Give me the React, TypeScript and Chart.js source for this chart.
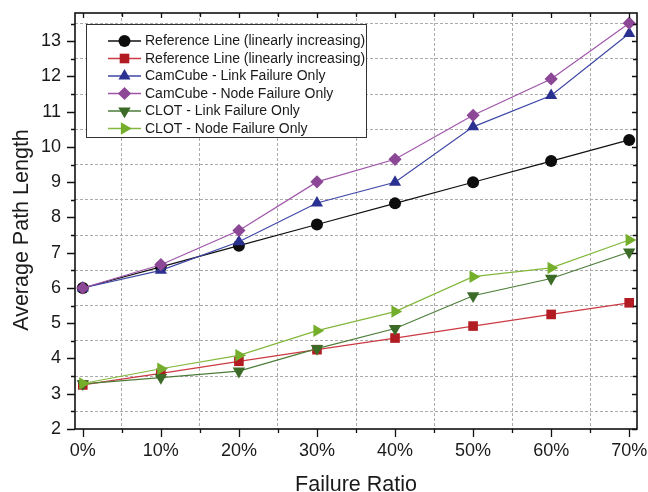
import React, { useEffect, useRef } from 'react';
import { Chart, registerables } from 'chart.js';
import { drawPoint } from 'chart.js/helpers';

Chart.register(...registerables);

// ---------- data ----------
const failureRatio = [0, 10, 20, 30, 40, 50, 60, 70];

const seriesLabels = [
  'Reference Line (linearly increasing)',
  'Reference Line (linearly increasing)',
  'CamCube - Link Failure Only',
  'CamCube - Node Failure Only',
  'CLOT - Link Failure Only',
  'CLOT - Node Failure Only',
];

const referenceHigh = [6.0, 6.6, 7.2, 7.8, 8.4, 9.0, 9.6, 10.2];
const referenceLow = [3.25, 3.58, 3.92, 4.25, 4.58, 4.92, 5.25, 5.58];
const camCubeLink = [6.0, 6.5, 7.31, 8.41, 9.0, 10.57, 11.46, 13.22];
const camCubeNode = [6.0, 6.66, 7.63, 9.01, 9.65, 10.9, 11.93, 13.51];
const clotLink = [3.28, 3.46, 3.64, 4.28, 4.85, 5.78, 6.27, 7.02];
const clotNode = [3.29, 3.71, 4.09, 4.79, 5.33, 6.32, 6.57, 7.36];

const xTickValues = [0, 5, 10, 15, 20, 25, 30, 35, 40, 45, 50, 55, 60, 65, 70];
const xLabelValues = [0, 10, 20, 30, 40, 50, 60, 70];
const yTickValues = [2, 2.5, 3, 3.5, 4, 4.5, 5, 5.5, 6, 6.5, 7, 7.5, 8, 8.5, 9, 9.5, 10, 10.5, 11, 11.5, 12, 12.5, 13, 13.5];
const yLabelValues = [2, 3, 4, 5, 6, 7, 8, 9, 10, 11, 12, 13];

const xTitle = 'Failure Ratio';
const yTitle = 'Average Path Length';

// ---------- styles ----------
const markerColors = ['#0d0d0d', '#b31b22', '#2b3190', '#8c4796', '#3c6b28', '#74ae2b'];
const lineColors = ['#111111', '#cc3a44', '#3e47a6', '#a055ab', '#4c7d38', '#82b83c'];
const pointStyles = ['circle', 'rect', 'triangle', 'rectRot', 'triangle', 'triangle'];
const pointRotations = [0, 0, 0, 0, 180, 90];
const pointRadii = [6, 6.8, 7, 6.6, 7.2, 7.2];

const FONT = "'Liberation Sans', Arial, Helvetica, sans-serif";

const seriesValues = [referenceHigh, referenceLow, camCubeLink, camCubeNode, clotLink, clotNode];

const isMajorX = (v: number) => xLabelValues.includes(v);
const isMajorY = (v: number) => yLabelValues.includes(v);

const framePlugin = {
  id: 'frameTicks',
  afterDraw(chart: any) {
    const { ctx, chartArea: a, scales } = chart;
    const xs = scales.x;
    const ys = scales.y;
    ctx.save();
    ctx.strokeStyle = '#111';
    ctx.lineWidth = 1.3;
    ctx.beginPath();
    xTickValues.forEach((v) => {
      const px = Math.round(xs.getPixelForValue(v)) + 0.5;
      const major = isMajorX(v);
      ctx.moveTo(px, a.bottom);
      ctx.lineTo(px, a.bottom + (major ? 8 : 4));
      ctx.moveTo(px, a.top);
      ctx.lineTo(px, a.top + (major ? 5 : 4));
    });
    yTickValues.forEach((v) => {
      const py = Math.round(ys.getPixelForValue(v)) + 0.5;
      const major = isMajorY(v);
      ctx.moveTo(a.left, py);
      ctx.lineTo(a.left - (major ? 8 : 4), py);
      ctx.moveTo(a.right, py);
      ctx.lineTo(a.right - (major ? 5 : 4), py);
    });
    ctx.stroke();
    ctx.lineWidth = 1.6;
    ctx.strokeRect(a.left, a.top, a.right - a.left, a.bottom - a.top);

    // axis titles
    ctx.fillStyle = '#1a1a1a';
    ctx.font = `21.5px ${FONT}`;
    ctx.textAlign = 'center';
    ctx.textBaseline = 'alphabetic';
    ctx.fillText(xTitle, (a.left + a.right) / 2, 491);
    ctx.translate(28, (a.top + a.bottom) / 2 + 9);
    ctx.rotate(-Math.PI / 2);
    ctx.fillText(yTitle, 0, 0);
    ctx.restore();
  },
};

const legendPlugin = {
  id: 'insideLegend',
  afterDatasetsDraw(chart: any) {
    const { ctx } = chart;
    const left = 86;
    const top = 24;
    const width = 280;
    const height = 113;
    ctx.save();
    ctx.fillStyle = '#ffffff';
    ctx.fillRect(left, top, width, height);
    ctx.strokeStyle = '#333';
    ctx.lineWidth = 1;
    ctx.strokeRect(left + 0.5, top + 0.5, width, height);
    chart.data.datasets.forEach((ds: any, i: number) => {
      const cy = top + 17 + i * 17.5;
      ctx.strokeStyle = ds.borderColor;
      ctx.lineWidth = 1.3;
      ctx.beginPath();
      ctx.moveTo(108, cy);
      ctx.lineTo(141, cy);
      ctx.stroke();
      ctx.fillStyle = ds.pointBackgroundColor;
      ctx.strokeStyle = ds.pointBorderColor;
      drawPoint(ctx, {
        pointStyle: ds.pointStyle,
        rotation: ds.pointRotation,
        radius: ds.pointRadius,
        borderWidth: 0,
      }, 124.5, cy);
      ctx.fillStyle = '#1a1a1a';
      ctx.font = `14px ${FONT}`;
      ctx.textAlign = 'left';
      ctx.textBaseline = 'middle';
      ctx.fillText(ds.label, 145, cy + 0.5);
    });
    ctx.restore();
  },
};

export default function App() {
  const canvasRef = useRef<HTMLCanvasElement | null>(null);

  useEffect(() => {
    const canvas = canvasRef.current;
    if (!canvas) return;

    const datasets = seriesValues.map((vals, i) => ({
      label: seriesLabels[i],
      data: failureRatio.map((x, j) => ({ x, y: vals[j] })),
      borderColor: lineColors[i],
      borderWidth: 1.2,
      backgroundColor: markerColors[i],
      pointBackgroundColor: markerColors[i],
      pointBorderColor: markerColors[i],
      pointBorderWidth: 0,
      pointStyle: pointStyles[i],
      pointRotation: pointRotations[i],
      pointRadius: pointRadii[i],
      tension: 0,
      fill: false,
      order: seriesValues.length - 1 - i,
    }));

    const chart = new Chart(canvas, {
      type: 'line',
      data: { datasets },
      options: {
        responsive: false,
        animation: false,
        events: [],
        layout: { padding: { left: 0, top: 13, right: 11, bottom: 0 } },
        plugins: {
          legend: { display: false },
          tooltip: { enabled: false },
          title: { display: false },
        },
        scales: {
          x: {
            type: 'linear',
            min: -1,
            max: 71,
            afterBuildTicks: (scale: any) => {
              scale.ticks = xTickValues.map((v) => ({ value: v }));
            },
            afterFit: (scale: any) => {
              scale.height = 63;
              scale.paddingLeft = 0;
              scale.paddingRight = 0;
            },
            ticks: {
              autoSkip: false,
              maxRotation: 0,
              minRotation: 0,
              padding: 11,
              color: '#1a1a1a',
              font: { family: FONT, size: 18 },
              callback: (v: any) => (isMajorX(Number(v)) ? `${v}%` : ''),
            },
            grid: {
              drawTicks: false,
              lineWidth: 1,
              color: (c: any) => (c.tick && !isMajorX(c.tick.value) ? '#ababab' : 'rgba(0,0,0,0)'),
            },
            border: { display: false, dash: [3, 2] },
          },
          y: {
            type: 'linear',
            min: 2,
            max: 13.8,
            afterBuildTicks: (scale: any) => {
              scale.ticks = yTickValues.map((v) => ({ value: v }));
            },
            afterFit: (scale: any) => {
              scale.width = 75;
              scale.paddingTop = 0;
              scale.paddingBottom = 0;
            },
            ticks: {
              autoSkip: false,
              padding: 14,
              color: '#1a1a1a',
              font: { family: FONT, size: 18 },
              callback: (v: any) => (isMajorY(Number(v)) ? `${v}` : ''),
            },
            grid: {
              drawTicks: false,
              lineWidth: 1,
              color: (c: any) => (c.tick && !isMajorY(c.tick.value) ? '#ababab' : 'rgba(0,0,0,0)'),
            },
            border: { display: false, dash: [3, 2] },
          },
        },
      },
      plugins: [legendPlugin, framePlugin],
    } as any);

    return () => {
      chart.destroy();
    };
  }, []);

  return (
    <div style={{ position: 'fixed', left: 0, top: 0, width: 648, height: 492, background: '#fff' }}>
      <canvas ref={canvasRef} width={648} height={492} style={{ display: 'block', width: 648, height: 492 }} />
    </div>
  );
}
